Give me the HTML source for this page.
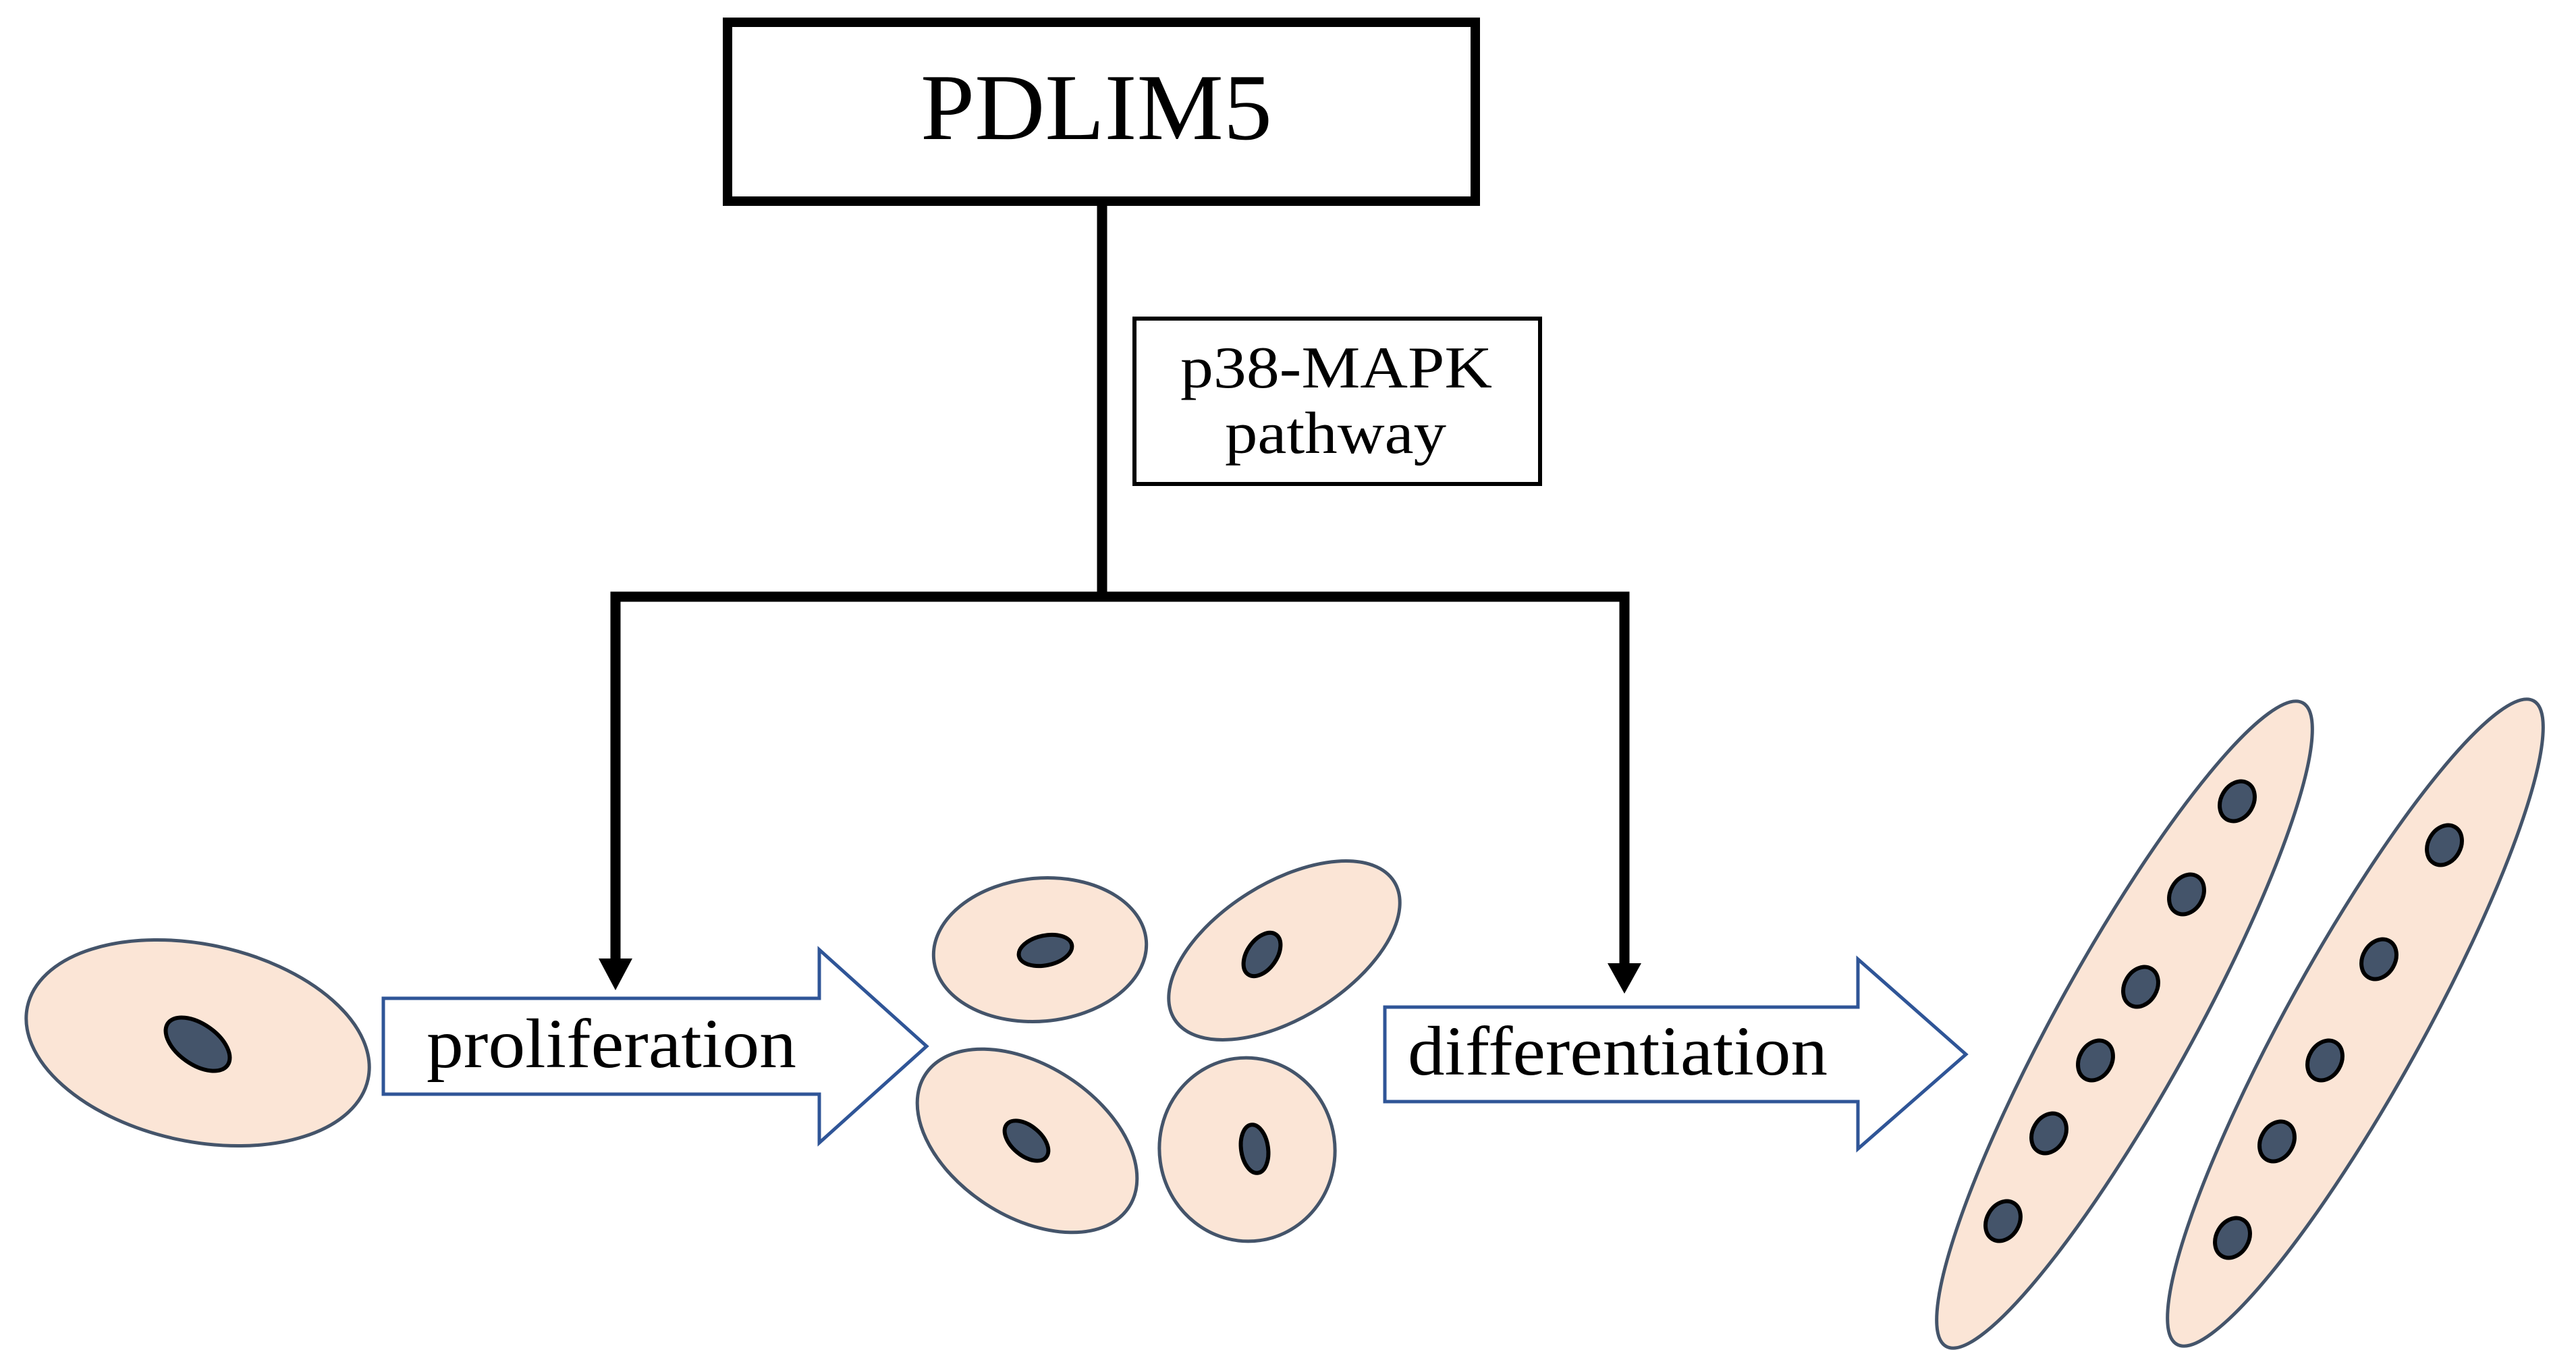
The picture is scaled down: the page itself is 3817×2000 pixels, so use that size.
<!DOCTYPE html>
<html><head><meta charset="utf-8"><style>html,body{margin:0;padding:0;background:#fff}svg{display:block}</style></head>
<body>
<svg width="3817" height="2000" viewBox="0 0 3817 2000" xmlns="http://www.w3.org/2000/svg" font-family="Liberation Serif, serif">
<!-- PDLIM5 box -->
<rect x="1078" y="33" width="1108" height="265" fill="#fff" stroke="#000" stroke-width="14"/>
<text x="1364" y="206" font-size="140" textLength="521" lengthAdjust="spacingAndGlyphs">PDLIM5</text>
<!-- connectors -->
<line x1="1633" y1="298" x2="1633" y2="884" stroke="#000" stroke-width="15"/>
<polyline points="912,1425 912,884 2407,884 2407,1430" fill="none" stroke="#000" stroke-width="15"/>
<polygon points="887,1420 937,1420 912,1467" fill="#000"/>
<polygon points="2382,1427 2432,1427 2407,1472" fill="#000"/>
<!-- p38 box -->
<rect x="1681" y="472" width="601" height="245" fill="#fff" stroke="#000" stroke-width="6"/>
<text x="1749" y="574" font-size="88" textLength="462" lengthAdjust="spacingAndGlyphs">p38-MAPK</text>
<text x="1815" y="671" font-size="88" textLength="328" lengthAdjust="spacingAndGlyphs">pathway</text>
<!-- left cell -->
<ellipse cx="293" cy="1545" rx="258" ry="146" transform="rotate(12 293 1545)" fill="#fbe5d6" stroke="#44546a" stroke-width="5"/>
<ellipse cx="293" cy="1547" rx="54" ry="30" transform="rotate(35 293 1547)" fill="#44546a" stroke="#000" stroke-width="6"/>
<!-- proliferation arrow -->
<polygon points="568,1479 1214,1479 1214,1407 1373,1550 1214,1693 1214,1621 568,1621" fill="#fff" stroke="#2f5597" stroke-width="5"/>
<text x="632" y="1581" font-size="104" textLength="548" lengthAdjust="spacingAndGlyphs">proliferation</text>
<!-- four cells -->
<g fill="#fbe5d6" stroke="#44546a" stroke-width="5">
<ellipse cx="1541" cy="1407" rx="158" ry="106" transform="rotate(-5 1541 1407)"/>
<ellipse cx="1903" cy="1408" rx="192" ry="100" transform="rotate(-32 1903 1408)"/>
<ellipse cx="1522" cy="1690" rx="180" ry="112" transform="rotate(33 1522 1690)"/>
<ellipse cx="1848" cy="1703" rx="130" ry="136" transform="rotate(-8 1848 1703)"/>
</g>
<g fill="#44546a" stroke="#000" stroke-width="6">
<ellipse cx="1549" cy="1408" rx="40" ry="22" transform="rotate(-12 1549 1408)"/>
<ellipse cx="1870" cy="1414" rx="36" ry="22" transform="rotate(-55 1870 1414)"/>
<ellipse cx="1521" cy="1690" rx="38" ry="22" transform="rotate(40 1521 1690)"/>
<ellipse cx="1859" cy="1702" rx="20" ry="36" transform="rotate(-8 1859 1702)"/>
</g>
<!-- differentiation arrow -->
<polygon points="2052,1492 2753,1492 2753,1421 2913,1562 2753,1702 2753,1632 2052,1632" fill="#fff" stroke="#2f5597" stroke-width="5"/>
<text x="2086" y="1592" font-size="104" textLength="622" lengthAdjust="spacingAndGlyphs">differentiation</text>
<!-- long cells -->
<g fill="#fbe5d6" stroke="#44546a" stroke-width="5">
<ellipse cx="3148" cy="1518" rx="545" ry="100" transform="rotate(-61 3148 1518)"/>
<ellipse cx="3490" cy="1515" rx="545" ry="100" transform="rotate(-61 3490 1515)"/>
</g>
<g fill="#44546a" stroke="#000" stroke-width="6">
<ellipse cx="3315" cy="1187" rx="24" ry="31" transform="rotate(30 3315 1187)"/>
<ellipse cx="3240" cy="1325" rx="24" ry="31" transform="rotate(30 3240 1325)"/>
<ellipse cx="3172" cy="1462" rx="24" ry="31" transform="rotate(30 3172 1462)"/>
<ellipse cx="3105" cy="1571" rx="24" ry="31" transform="rotate(30 3105 1571)"/>
<ellipse cx="3036" cy="1679" rx="24" ry="31" transform="rotate(30 3036 1679)"/>
<ellipse cx="2968" cy="1809" rx="24" ry="31" transform="rotate(30 2968 1809)"/>
<ellipse cx="3622" cy="1252" rx="24" ry="31" transform="rotate(30 3622 1252)"/>
<ellipse cx="3525" cy="1421" rx="24" ry="31" transform="rotate(30 3525 1421)"/>
<ellipse cx="3445" cy="1571" rx="24" ry="31" transform="rotate(30 3445 1571)"/>
<ellipse cx="3374" cy="1691" rx="24" ry="31" transform="rotate(30 3374 1691)"/>
<ellipse cx="3308" cy="1834" rx="24" ry="31" transform="rotate(30 3308 1834)"/>
</g>
</svg>
</body></html>
